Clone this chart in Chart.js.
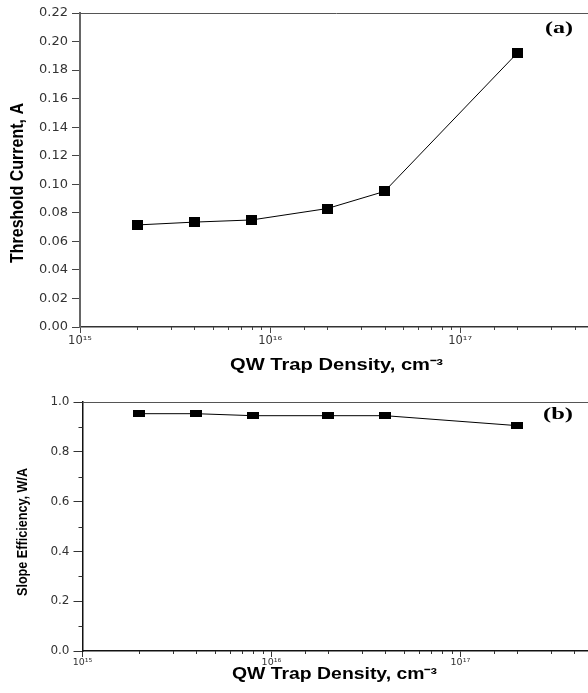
<!DOCTYPE html>
<html>
<head>
<meta charset="utf-8">
<title>QW trap density</title>
<script src="https://cdn.jsdelivr.net/npm/chart.js@4.4.1/dist/chart.umd.min.js"></script>
<style>
  html, body { margin: 0; padding: 0; background: #fff; width: 588px; height: 693px; overflow: hidden; }
  .panel { position: absolute; left: 0; }
  #panelA { top: 0; }
  #panelB { top: 380px; }
</style>
</head>
<body>
<div class="panel" id="panelA"><canvas id="chartA" width="600" height="380"></canvas></div>
<div class="panel" id="panelB"><canvas id="chartB" width="600" height="313"></canvas></div>
<script>
// trap density in the quantum well, cm^-3
const trapDensity = [2e15, 4e15, 8e15, 2e16, 4e16, 2e17];
// (a) threshold current, A
const thresholdCurrent = [0.0715, 0.0735, 0.075, 0.083, 0.095, 0.192];
// (b) slope efficiency, W/A
const slopeEfficiency = [0.953, 0.953, 0.945, 0.945, 0.945, 0.905];
// decade labels on the log axis
const decadeLabels = { 15: '10¹⁵', 16: '10¹⁶', 17: '10¹⁷' };

const AXIS_FONT = 'DejaVu Sans, Arial, sans-serif';

// filled black box used as marker
function boxMarker(w, h) {
  const c = document.createElement('canvas');
  c.width = w;
  c.height = h;
  const g = c.getContext('2d');
  g.fillStyle = '#000';
  g.fillRect(0, 0, w, h);
  return c;
}

function decadeLabel(v) {
  const e = Math.round(Math.log10(v));
  if (Math.abs(v / Math.pow(10, e) - 1) < 1e-6) return decadeLabels[e] || '';
  return '';
}

// text squeezed/stretched to a given length
function fitText(ctx, text, x, y, len, rot) {
  ctx.save();
  ctx.translate(x, y);
  ctx.rotate(rot || 0);
  const w = ctx.measureText(text).width;
  ctx.scale(len / w, 1);
  ctx.textAlign = 'center';
  ctx.textBaseline = 'middle';
  ctx.fillText(text, 0, 0);
  ctx.restore();
}

// frame line on top, short minor ticks, axis titles, panel tag
const panelDecor = {
  id: 'panelDecor',
  afterDraw(chart, args, o) {
    const { ctx, chartArea: a, scales } = chart;
    ctx.save();
    ctx.strokeStyle = o.frameColor;
    ctx.lineWidth = 1;
    ctx.beginPath();
    ctx.moveTo(a.left, a.top + 0.5);
    ctx.lineTo(a.right, a.top + 0.5);
    ctx.stroke();

    ctx.strokeStyle = o.tickColor;
    ctx.beginPath();
    scales.x.ticks.forEach(t => {
      if (t.label !== '') return;
      const px = Math.round(scales.x.getPixelForValue(t.value)) + 0.5;
      ctx.moveTo(px, a.bottom);
      ctx.lineTo(px, a.bottom + o.minorX);
    });
    scales.y.ticks.forEach(t => {
      if (t.label !== '') return;
      const py = Math.round(scales.y.getPixelForValue(t.value)) + 0.5;
      ctx.moveTo(a.left, py);
      ctx.lineTo(a.left - o.minorY, py);
    });
    ctx.stroke();

    ctx.fillStyle = '#000';
    ctx.font = 'bold ' + o.yTitleSize + 'px "Liberation Sans", Arial, sans-serif';
    fitText(ctx, o.yTitle, o.yTitleX, o.yTitleY, o.yTitleLen, -Math.PI / 2);
    ctx.font = 'bold ' + o.xTitleSize + 'px "Liberation Sans", Arial, sans-serif';
    fitText(ctx, 'QW Trap Density, cm⁻³', o.xTitleX, o.xTitleY, o.xTitleLen, 0);
    ctx.font = 'bold 16px "Liberation Serif", "Times New Roman", serif';
    fitText(ctx, o.tag, o.tagX, o.tagY, o.tagLen, 0);
    ctx.restore();
  }
};

function panelConfig(values, p) {
  return {
    type: 'line',
    data: {
      datasets: [{
        data: trapDensity.map((x, i) => ({ x: x, y: values[i] })),
        borderColor: '#000',
        borderWidth: 1,
        pointStyle: boxMarker(p.markW, p.markH),
        pointRadius: 6,
        pointHoverRadius: 6,
        tension: 0
      }]
    },
    options: {
      responsive: false,
      animation: false,
      events: [],
      layout: { padding: { top: p.top, right: p.right, left: 0, bottom: 0 } },
      plugins: {
        legend: { display: false },
        tooltip: { enabled: false },
        panelDecor: p.decor
      },
      scales: {
        x: {
          type: 'logarithmic',
          min: 1e15,
          max: 5e17,
          afterFit: s => { s.height = p.xHeight; },
          border: { color: p.xAxisColor, width: 1.5 },
          grid: {
            drawOnChartArea: false,
            tickLength: p.xTick,
            tickColor: c => (c.tick && c.tick.label === '' ? 'rgba(0,0,0,0)' : p.tickColor)
          },
          ticks: {
            autoSkip: false,
            maxRotation: 0,
            minRotation: 0,
            padding: p.xPad,
            color: '#333',
            font: { family: AXIS_FONT, size: p.xFont },
            callback: v => decadeLabel(v)
          }
        },
        y: {
          min: 0,
          max: p.yMax,
          afterFit: s => { s.width = p.left; },
          border: { color: p.yAxisColor, width: p.yAxisWidth },
          grid: {
            drawOnChartArea: false,
            tickLength: p.yTick,
            tickColor: c => (c.tick && c.tick.label === '' ? 'rgba(0,0,0,0)' : p.tickColor)
          },
          ticks: {
            stepSize: p.yStep,
            padding: p.yPad,
            color: '#333',
            font: { family: AXIS_FONT, size: p.yFont },
            callback: (v, i) => (i % 2 === 0 ? v.toFixed(p.yDigits) : '')
          }
        }
      }
    },
    plugins: [panelDecor]
  };
}

// (a) threshold current
new Chart(document.getElementById('chartA'), panelConfig(thresholdCurrent, {
  markW: 11, markH: 10,
  top: 13, right: 4.5, left: 80, xHeight: 53,
  xTick: 6, xPad: 1, xFont: 11.5,
  yMax: 0.22, yStep: 0.01, yDigits: 2, yTick: 8, yPad: 4, yFont: 13,
  xAxisColor: '#333', yAxisColor: '#666', yAxisWidth: 2, tickColor: '#444',
  decor: {
    frameColor: '#555', tickColor: '#444', minorX: 3, minorY: 3,
    yTitle: 'Threshold Current, A', yTitleX: 18, yTitleY: 183, yTitleSize: 18, yTitleLen: 160,
    xTitleX: 336.5, xTitleY: 366, xTitleSize: 16, xTitleLen: 213,
    tag: '(a)', tagX: 559, tagY: 29, tagLen: 28
  }
}));

// (b) slope efficiency
new Chart(document.getElementById('chartB'), panelConfig(slopeEfficiency, {
  markW: 12, markH: 7,
  top: 22, right: 7.5, left: 82.5, xHeight: 42,
  xTick: 6, xPad: 0, xFont: 9.5,
  yMax: 1.0, yStep: 0.1, yDigits: 1, yTick: 9, yPad: 4, yFont: 12,
  xAxisColor: '#111', yAxisColor: '#111', yAxisWidth: 1.5, tickColor: '#333',
  decor: {
    frameColor: '#555', tickColor: '#333', minorX: 3, minorY: 4,
    yTitle: 'Slope Efficiency, W/A', yTitleX: 23, yTitleY: 152, yTitleSize: 15, yTitleLen: 128,
    xTitleX: 334.5, xTitleY: 295, xTitleSize: 16, xTitleLen: 205,
    tag: '(b)', tagX: 558, tagY: 35, tagLen: 30
  }
}));
</script>
</body>
</html>
